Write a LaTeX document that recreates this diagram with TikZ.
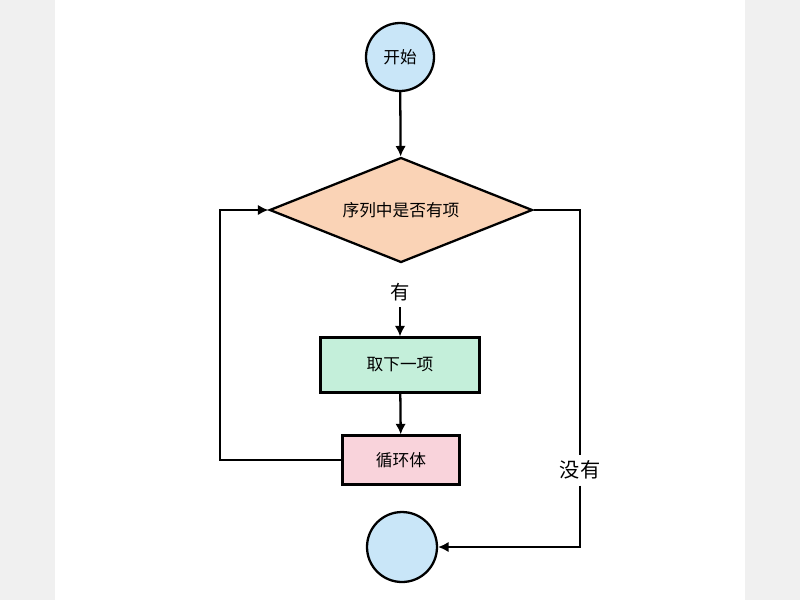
\documentclass[tikz,border=0pt]{standalone}
\usepackage{fontspec}
\newfontfamily\cjk{Noto Sans CJK SC}
\usetikzlibrary{shapes.geometric,arrows.meta}
\definecolor{startblue}{HTML}{C9E6F8}
\definecolor{testorange}{HTML}{FAD3B6}
\definecolor{takegreen}{HTML}{C4EFDA}
\definecolor{bodypink}{HTML}{F9D3DB}
\begin{document}
\begin{tikzpicture}[x=0.02cm,y=-0.02cm,font=\cjk\fontsize{9.5}{11}\selectfont]
    \tikzstyle{flow}=[draw=black, line width=1.3pt]
    \tikzstyle{arrow}=[flow, -{Latex[length=6pt,width=6pt]}]
    \tikzstyle{terminal}=[circle, flow, fill=startblue, minimum size=1.36cm, inner sep=0pt]
    \tikzstyle{box}=[rectangle, flow, inner sep=0pt]
    % background
    \fill[gray!12] (0,0) rectangle (800,600);
    \fill[white] (55,0) rectangle (745,600);
    \useasboundingbox (0,0) rectangle (800,600);

    \node[terminal] (start) at (400,57) {开始};
    \node[diamond, flow, fill=testorange, aspect=2.5, minimum width=5.26cm, minimum height=2.1cm, inner sep=0pt] (test) at (401,210) {序列中是否有项};
    \node[font=\cjk\fontsize{11}{13}\selectfont] (yes) at (400,292) {有};
    \node[box, fill=takegreen, minimum width=3.18cm, minimum height=1.1cm] (take) at (400,365) {取下一项};
    \node[box, fill=bodypink, minimum width=2.34cm, minimum height=0.98cm] (body) at (401,460) {循环体};
    \node[terminal, minimum size=1.4cm] (stop) at (402,547) {};
    \node[fill=white, font=\cjk\fontsize{11.5}{13}\selectfont] (no) at (580,470) {没有};
    \coordinate (loop) at (220,460);
    \coordinate (exit) at (580,210);

    \draw[arrow] (start) -- (test);
    \draw[arrow] (yes) -- (take);
    \draw[arrow] (take) -- (body);
    \draw[arrow] (body.west) -- (loop) |- (test.west);
    \draw[flow] (test.east) -- (exit) -- (no);
    \draw[arrow] (no) |- (stop.east);
\end{tikzpicture}
\end{document}
